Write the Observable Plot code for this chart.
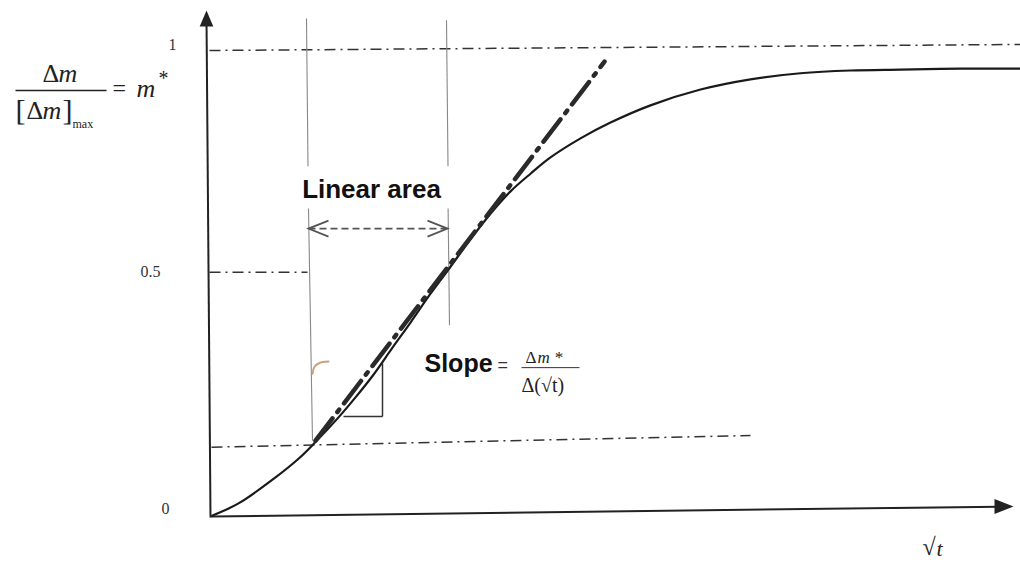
<!DOCTYPE html>
<html><head><meta charset="utf-8">
<script src="https://cdn.jsdelivr.net/npm/d3@7"></script>
<script src="https://cdn.jsdelivr.net/npm/@observablehq/plot@0.6"></script>
<style>body{margin:0;background:#fff} #chart svg{display:block;background:#fff}</style>
</head><body><div id="chart"></div>
<script>
// sorption curve m* vs sqrt(t)
const sqrtT = [0.03,0.29,0.63,0.89,1.06,1.29,1.46,1.63,1.83,2.01,2.21,2.41,2.61,2.81,3.01,3.21,3.41,3.71,4.01,4.41,4.91,5.41,5.91,6.41,6.91,7.51,8.11];
const mStar = [0,0.026,0.077,0.122,0.158,0.211,0.254,0.300,0.361,0.415,0.477,0.535,0.594,0.649,0.697,0.735,0.770,0.811,0.845,0.882,0.916,0.938,0.951,0.957,0.959,0.961,0.961];
// tangent (initial slope) line
const tangentSqrtT = [1.06, 3.95];
const tangentM = [0.161, 0.976];
// y tick labels
const yTickLabels = ["0", "0.5", "1"];
const yTickValues = [0.015, 0.523, 1.011];
// dash-dot reference levels
const refX1 = [0, 0, 0.02];
const refY1 = [1.0, 0.523, 0.147];
const refX2 = [8.11, 0.98, 5.41];
const refY2 = [1.013, 0.523, 0.172];
// linear area bounds (top, bottom)
const linearTop = [0.97, 2.37];
const linearBottom = [1.03, 2.40];
const linearLevel = 0.617;

const curve = sqrtT.map((x, i) => ({x, y: mStar[i]}));
const tangent = tangentSqrtT.map((x, i) => ({x, y: tangentM[i]}));
const refs = refX1.map((x1, i) => ({x1, y1: refY1[i], x2: refX2[i], y2: refY2[i]}));
const verticals = [
  {x1: linearTop[0], y1: 1.069, x2: 0.985, y2: 0.751}, {x1: 0.99, y1: 0.660, x2: linearBottom[0], y2: 0.161},
  {x1: linearTop[1], y1: 1.065, x2: 2.385, y2: 0.751}, {x1: 2.386, y1: 0.660, x2: linearBottom[1], y2: 0.409}
];

const head = (lf, wf) => ({draw(ctx, size) {
  const r = Math.sqrt(size / Math.PI);
  ctx.moveTo(0, 0); ctx.lineTo(-wf * r / 2, lf * r); ctx.lineTo(wf * r / 2, lf * r); ctx.closePath();
}});
const chevron = {draw(ctx, size) {
  const r = Math.sqrt(size / Math.PI);
  ctx.moveTo(2 * r, -0.8 * r); ctx.lineTo(0, 0); ctx.lineTo(2 * r, 0.8 * r);
}};

const serif = "Liberation Serif, DejaVu Serif, serif";
const sans = "Liberation Sans, Arial, sans-serif";
const T = (text, x, y, o = {}) => Plot.text([text], {x: () => x, y: () => y, text: d => d,
  fontFamily: serif, fontSize: 16, fill: "#222", textAnchor: "start", lineAnchor: "middle", ...o});
const L = (x1, y1, x2, y2, o = {}) => Plot.link([0], {x1: () => x1, y1: () => y1, x2: () => x2, y2: () => y2, stroke: "#222", strokeWidth: 1.5, ...o});

const plot = Plot.plot({
  width: 1020, height: 563,
  marginLeft: 0, marginRight: 0, marginTop: 0, marginBottom: 0,
  x: {domain: [-2.09, 8.11], range: [0, 1020], axis: null},
  y: {domain: [-0.1032, 1.1075], range: [563, 0], axis: null},
  style: {background: "#fff"},
  marks: [
    // reference dash-dot lines
    Plot.link(refs, {x1: "x1", y1: "y1", x2: "x2", y2: "y2", stroke: "#333", strokeWidth: 1.5, strokeDasharray: "11,5,2,5"}),
    // linear area bounds
    Plot.link(verticals, {x1: "x1", x2: "x2", y1: "y1", y2: "y2", stroke: "#888", strokeWidth: 1.1}),
    // linear area dashed double arrow
    L(linearTop[0] + 0.02, linearLevel, linearTop[1] + 0.01, linearLevel, {stroke: "#555", strokeWidth: 1.8, strokeDasharray: "7,4"}),
    Plot.dot([linearTop[0] + 0.02, linearTop[1] + 0.01], {x: d => d, y: () => linearLevel, symbol: chevron, r: 10, fill: "none", stroke: "#555", strokeWidth: 1.8, rotate: (d, i) => i ? 180 : 0}),
    // axes
    L(-0.03, 1.07, 0.01, -0.004, {strokeWidth: 2}),
    L(0.01, -0.002, 7.9, 0.019, {strokeWidth: 2}),
    Plot.dot([0], {x: () => -0.03, y: () => 1.086, symbol: head(2, 1.7), r: 8, fill: "#222", stroke: "none"}),
    Plot.dot([0], {x: () => 8.04, y: () => 0.0194, symbol: head(2, 1.6), r: 9.5, fill: "#222", stroke: "none", rotate: 90}),
    // slope triangle
    L(1.73, 0.213, 1.73, 0.327, {stroke: "#333"}),
    L(1.34, 0.213, 1.73, 0.213, {stroke: "#333"}),
    // small brown mark in scan
    Plot.line([{x: 1.03, y: 0.305}, {x: 1.05, y: 0.320}, {x: 1.10, y: 0.328}, {x: 1.19, y: 0.331}], {x: "x", y: "y", stroke: "#c9a080", strokeWidth: 2, curve: "catmull-rom"}),
    // sorption curve
    Plot.line(curve, {x: "x", y: "y", stroke: "#1a1a1a", strokeWidth: 2.2, curve: "catmull-rom"}),
    // tangent
    Plot.line(tangent, {x: "x", y: "y", stroke: "#2a2a2a", strokeWidth: 4.5, strokeDasharray: "28,8,3,8"}),
    // y tick labels
    Plot.text(yTickLabels, {x: (d, i) => [-0.44, -0.59, -0.37][i], y: (d, i) => yTickValues[i], text: d => d, fontFamily: serif, fontSize: 16, fill: "#333", textAnchor: "middle", lineAnchor: "middle"}),
    // y label: Δm / [Δm]max = m*
    T("Δ", -1.67, 0.9505, {fontSize: 26}),
    T("m", -1.51, 0.9505, {fontSize: 26, fontStyle: "italic"}),
    L(-1.94, 0.914, -1.03, 0.914),
    T("[", -1.94, 0.871, {fontSize: 30}),
    T("Δ", -1.83, 0.871, {fontSize: 26}),
    T("m", -1.67, 0.871, {fontSize: 26, fontStyle: "italic"}),
    T("]", -1.47, 0.871, {fontSize: 30}),
    T("max", -1.37, 0.841, {fontSize: 12}),
    T("=", -0.97, 0.918, {fontSize: 24}),
    T("m", -0.73, 0.918, {fontSize: 26, fontStyle: "italic"}),
    T("*", -0.51, 0.940, {fontSize: 20}),
    // Linear area label
    T("Linear area", 1.62, 0.701, {fontFamily: sans, fontSize: 26, fontWeight: "bold", fill: "#111", textAnchor: "middle"}),
    // Slope label
    T("Slope", 2.15, 0.325, {fontFamily: sans, fontSize: 25, fontWeight: "bold", fill: "#111"}),
    T("=", 2.88, 0.323, {fontFamily: sans, fontSize: 18, fill: "#333"}),
    T("Δ", 3.16, 0.340, {fontSize: 17}),
    T("m *", 3.28, 0.340, {fontSize: 17, fontStyle: "italic"}),
    L(3.12, 0.318, 3.70, 0.318, {stroke: "#333", strokeWidth: 1}),
    T("Δ(√t)", 3.12, 0.280, {fontSize: 20}),
    // x label √t
    T("√", 7.13, -0.069, {fontSize: 24}),
    T("t", 7.27, -0.071, {fontSize: 22, fontStyle: "italic"})
  ]
});
document.getElementById("chart").append(plot);
</script>
</body></html>
